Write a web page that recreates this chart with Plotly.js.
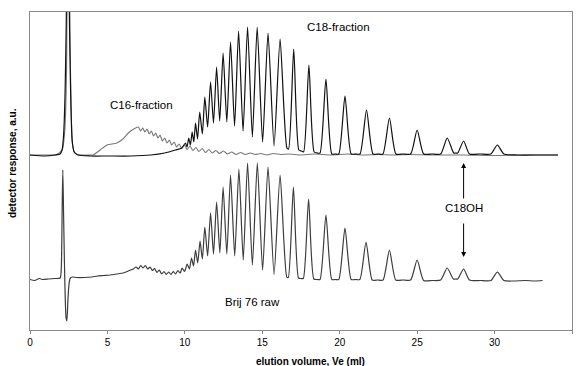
<!DOCTYPE html>
<html>
<head>
<meta charset="utf-8">
<script src="https://cdn.plot.ly/plotly-3.0.1.min.js"></script>
<style>html,body{margin:0;padding:0;background:#fff;}#chart{width:576px;height:366px;}</style>
</head>
<body>
<div id="chart"></div>
<script>
// elution volume (ml) and detector response (a.u.)
const c18X = [0, 0.97, 1.62, 1.94, 2.07, 2.17, 2.27, 2.36, 2.45, 2.53, 2.62, 2.72, 2.85, 3.1, 3.89, 5.0, 6.5, 7.8, 8.7, 9.4, 9.8,
  10.04,10.14,10.25,10.36,10.47,10.58,10.69,10.82,10.96,11.13,11.29,11.47,11.66,11.85,12.05,12.25,12.47,12.71,12.95,13.21,
  13.47,13.76,14.05,14.36,14.67,15.02,15.37,15.76,16.15,16.59,16.70,17.03,17.36,17.52,17.67,18.01,18.35,18.56,18.73,19.11,
  19.49,19.72,19.94,20.34,20.74,21.03,21.31,21.73,22.15,22.47,22.79,23.21,23.63,24.09,24.58,25.0,25.42,25.97,26.52,26.94,
  27.36,27.46,27.62,28.0,28.38,29.08,29.76,30.18,30.6,31.5,33.0,34.1];
const c18Y = [175, 174, 175, 176, 180, 195, 240, 330, 600, 330, 240, 190, 178, 175, 174, 174, 174, 175, 177, 180, 182,
  187,183,192,185,198,188,207,191,218,196,233,203,248,207,263,209,277,208,288,204,
  299,199,303,193,303,188,297,184,291,182,181,281,180,179,178,265,178,177,177,251,
  176,176,176,234,176,176,176,220,176,176,176,212,176,176,176,200,176,176,176,192,
  177,177,177,189,176,176,176,185,176,175,175,175];

const c16X = [0, 0.97, 1.62, 1.8, 2.0, 2.1, 2.25, 2.36, 2.47, 2.58, 2.66, 2.75, 2.9, 3.2, 3.89, 4.08, 4.53, 4.97, 5.6, 6.0, 6.35, 6.7,
  7.0,7.14,7.28,7.42,7.56,7.70,7.84,7.98,8.12,8.26,8.40,8.55,8.70,8.85,9.00,9.15,9.31,9.47,9.63,9.80,
  9.97,10.15,10.33,10.52,10.71,10.91,11.12,11.33,11.55,11.77,12.0,12.24,12.49,12.75,13.02,13.3,13.6,13.9,14.22,14.55,
  14.9,15.3,15.7,16.2,16.7,17.5,18.3,19.5,20.5,21.5,22.5,23.5,24.5,26,28,30,32,34.1];
const c16Y = [175, 175, 175, 176, 179, 181, 200, 260, 600, 300, 220, 185, 177, 175, 175, 175, 180, 185, 187, 191, 197, 201,
  203,199,202,198,201,196,199,194,197,192,195,189,192,187,190,185,188,183,186,181.5,
  185,180.5,184,179.5,182.5,178.5,181.5,177.5,180.5,177,179.5,176.5,179,176,178,175.5,177.5,175.5,177,175.5,
  176.5,175,176.5,175.5,176,175,176,175,176,175,175.5,175,175.5,175,175,174.5,175,175];

const rawX = [0, 0.3, 0.6, 0.8, 1.2, 1.6, 1.95, 2.02, 2.08, 2.12, 2.17, 2.22, 2.27, 2.33, 2.38, 2.45, 2.52, 2.6, 2.75, 3.0,
  3.5, 4.0, 4.34, 4.8, 5.18, 5.6, 6.02, 6.35, 6.67,
  6.85,7.0,7.15,7.3,7.45,7.6,7.75,7.9,8.05,8.2,8.35,8.5,8.65,8.8,8.95,9.1,9.25,9.4,9.55,9.7,9.82,9.98,
  10.15,10.29,10.43,10.56,10.69,10.83,10.98,11.13,11.29,11.47,11.66,11.85,12.05,12.26,12.47,12.71,12.95,13.22,13.49,13.77,
  14.05,14.36,14.68,15.02,15.37,15.76,16.15,16.58,16.68,17.01,17.34,17.5,17.65,17.99,18.33,18.55,18.73,19.11,19.49,19.72,
  19.94,20.34,20.74,21.02,21.3,21.7,22.1,22.45,22.8,23.21,23.62,24.1,24.58,25.0,25.42,25.97,26.52,26.94,27.34,27.47,
  27.62,28.0,28.38,29.1,29.76,30.18,30.6,31.2,32.0,32.6,33.1];
const rawY = [50.5, 49.5, 51.5, 50.5, 51, 51.5, 52, 62, 125, 160, 115, 70, 35, 12, 9, 30, 46, 52, 53, 52.5,
  52.5, 53, 54, 54.5, 55, 56, 57, 59, 61,
  63,61,64.5,62,64.5,61,63,59.5,61.5,57.5,60,56,58.5,55.5,58,55.5,58.5,56,59.5,57,62,58.5,
  66,61,72,64,80,67,89,71,103,74,117,76,128,77,143,76,155,74,161,70,
  167,65,167,60,163,55.5,155,53,52.5,143,52,51.5,51.5,131,51,50.5,50.5,115,50.5,50.5,
  50.5,102,50.5,50.5,50.5,88,50,50,50,80,50,50,50,70,49.5,49.5,50,62,51,51,
  51,61,50,49.5,49.5,58,49.5,49,49.5,49,49.5];

const xTicks = [0, 5, 10, 15, 20, 25, 30, 35];
const labels = {c16: 'C16-fraction', c18: 'C18-fraction', raw: 'Brij 76 raw', oh: 'C18OH'};

const FONT = 'Arial, "Liberation Sans", sans-serif';
const AXC = '#8a8a8a';

const traces = [
  {x: c16X, y: c16Y, type: 'scatter', mode: 'lines', line: {color: '#777777', width: 1.1, shape: 'spline', smoothing: 0.6}, hoverinfo: 'skip'},
  {x: c18X, y: c18Y, type: 'scatter', mode: 'lines', line: {color: '#111111', width: 1.2, shape: 'spline', smoothing: 0.6}, hoverinfo: 'skip'},
  {x: rawX, y: rawY, type: 'scatter', mode: 'lines', line: {color: '#3c3c3c', width: 1.2, shape: 'spline', smoothing: 0.6}, hoverinfo: 'skip'}
];

const ann = (text, x, y) => ({text, x, y, xref: 'x', yref: 'y', showarrow: false, font: {family: FONT, size: 11.5, color: '#000'}});

const layout = {
  width: 576, height: 366,
  margin: {l: 30, r: 4, t: 12, b: 36},
  paper_bgcolor: '#fff', plot_bgcolor: '#fff',
  showlegend: false,
  font: {family: FONT, size: 10, color: '#000'},
  xaxis: {range: [0, 35], tickvals: xTicks, ticktext: xTicks.map(String), showgrid: false, zeroline: false,
    showline: true, linecolor: AXC, linewidth: 1, mirror: true, ticks: 'outside', ticklen: 3, tickcolor: AXC,
    tickfont: {family: FONT, size: 10, color: '#000'}, fixedrange: true},
  yaxis: {range: [0, 318], showgrid: false, zeroline: false, showticklabels: false, ticks: '',
    showline: true, linecolor: AXC, linewidth: 1, mirror: true, fixedrange: true},
  annotations: [
    ann(labels.c16, 7.23, 225),
    ann(labels.c18, 19.95, 303),
    ann(labels.raw, 14.36, 28.3),
    ann(labels.oh, 28.02, 122),
    {x: 28.0, y: 167, ax: 28.0, ay: 130, xref: 'x', yref: 'y', axref: 'x', ayref: 'y', text: '', showarrow: true,
      arrowhead: 2, arrowsize: 1, arrowwidth: 1, arrowcolor: '#000', standoff: 0, startstandoff: 0},
    {x: 28.0, y: 73, ax: 28.0, ay: 108, xref: 'x', yref: 'y', axref: 'x', ayref: 'y', text: '', showarrow: true,
      arrowhead: 2, arrowsize: 1, arrowwidth: 1, arrowcolor: '#000', standoff: 0, startstandoff: 0},
    {text: '<b>elution volume, Ve (ml)</b>', xref: 'paper', yref: 'paper', x: 0.518, y: -0.0997, xanchor: 'center', yanchor: 'middle',
      showarrow: false, font: {family: FONT, size: 10, color: '#000'}},
    {text: '<b>detector response, a.u.</b>', xref: 'paper', yref: 'paper', x: -0.0332, y: 0.525, xanchor: 'center', yanchor: 'middle',
      textangle: -90, showarrow: false, font: {family: FONT, size: 10, color: '#000'}}
  ]
};

Plotly.newPlot('chart', traces, layout, {staticPlot: true, displayModeBar: false});
</script>
</body>
</html>
